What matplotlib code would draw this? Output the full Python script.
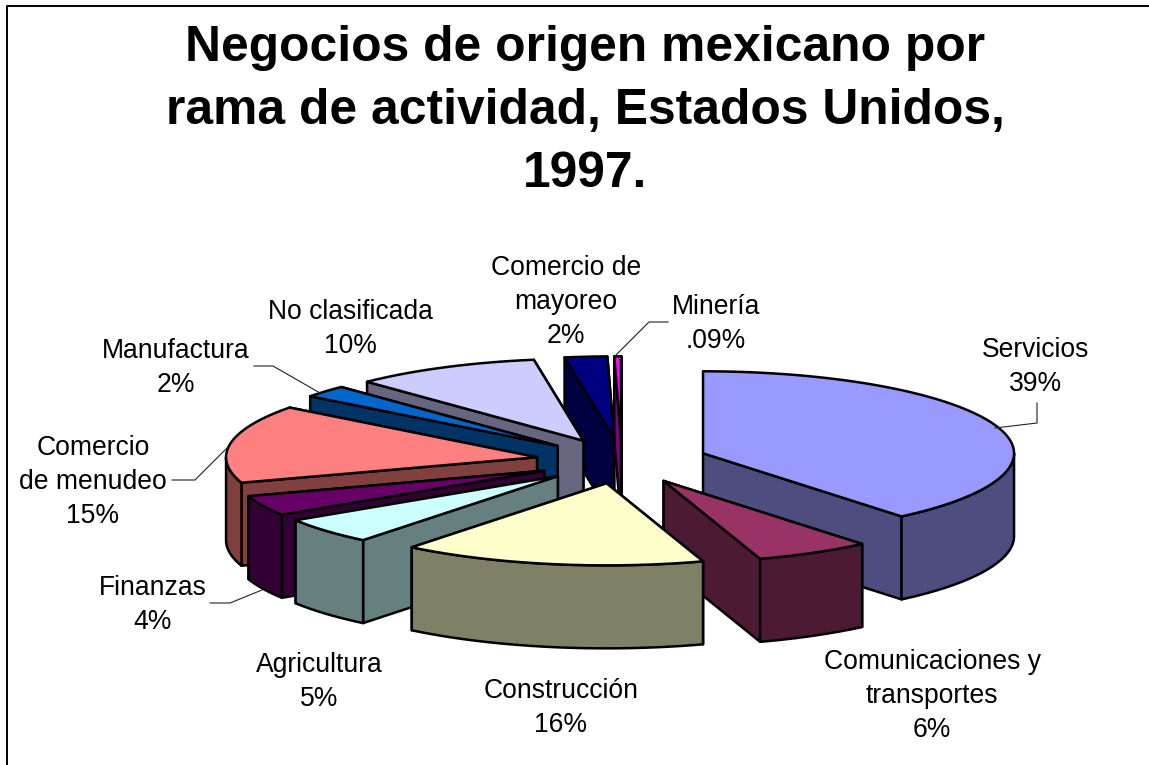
import numpy as np
import matplotlib
matplotlib.use('Agg')
import matplotlib.pyplot as plt
from matplotlib.colors import to_rgb

plt.rcParams['font.family'] = ['Liberation Sans', 'DejaVu Sans']

title = 'Negocios de origen mexicano por\nrama de actividad, Estados Unidos,\n1997.'

categories = ['Servicios', 'Comunicaciones y\ntransportes', 'Construcción', 'Agricultura',
              'Finanzas', 'Comercio\nde menudeo', 'Manufactura', 'No clasificada',
              'Comercio de\nmayoreo', 'Minería']
# slice sizes as drawn in the picture, the printed labels are rounded
values = [39.0, 6.0, 15.8, 5.2, 4.0, 15.4, 2.4, 9.7, 2.2, 0.35]
pct_labels = ['39%', '6%', '16%', '5%', '4%', '15%', '2%', '10%', '2%', '.09%']
colors = ['#9999FF', '#993366', '#FFFFCC', '#CCFFFF', '#660066',
          '#FF8080', '#0066CC', '#CCCCFF', '#000080', '#FF00FF']

# layout in pixels
CX, CY = 622, 461
RX, RY = 311, 82
DEPTH = 83
EXPLODE = 0.277
LW = 1.8

label_pos = [(1036, 367), (932, 696), (561, 708), (319, 682), (153, 605),
             (93, 482), (176, 368), (350, 329), (566, 302), (716, 324)]

leaders = [
    [(1037, 403), (1037, 423), (995, 428)],
    [(668, 322), (649, 322), (614, 357)],
    [(254, 366), (273, 366), (320, 393)],
    [(172, 480), (195, 480), (228, 447)],
    [(210, 603), (230, 603), (262, 590)],
]


def rim(ang, x0, y0):
    # angle is clockwise from 12 o'clock, in radians
    return x0 + RX * np.sin(ang), y0 - RY * np.cos(ang)


def draw_slice(ax, start, end, color, order):
    mid = (start + end) / 2
    x0 = CX + EXPLODE * RX * np.sin(mid)
    y0 = CY - EXPLODE * RY * np.cos(mid)
    side = tuple(c * 0.5 for c in to_rgb(color))
    style = dict(edgecolor='black', linewidth=LW, joinstyle='round', zorder=order)

    # cut faces, the back one first
    faces = []
    for a in (start, end):
        xr, yr = rim(a, x0, y0)
        faces.append(((y0 + yr) / 2, [(x0, y0), (xr, yr), (xr, yr + DEPTH), (x0, y0 + DEPTH)]))
    faces.sort(key=lambda f: f[0])
    for _, pts in faces:
        ax.fill(*zip(*pts), facecolor=side, **style)

    # outer wall, only the part facing the viewer
    a0, a1 = max(start, np.pi / 2), min(end, 3 * np.pi / 2)
    if a1 > a0:
        t = np.linspace(a0, a1, 80)
        xs, ys = rim(t, x0, y0)
        ax.fill(np.r_[xs, xs[::-1]], np.r_[ys, ys[::-1] + DEPTH], facecolor=side, **style)

    # top face
    t = np.linspace(start, end, 120)
    xs, ys = rim(t, x0, y0)
    ax.fill(np.r_[x0, xs], np.r_[y0, ys], facecolor=color, **style)


fig = plt.figure(figsize=(11.49, 7.65), dpi=100)
ax = fig.add_axes([0, 0, 1, 1])
ax.set_xlim(0, 1149)
ax.set_ylim(765, 0)
ax.axis('off')

# frame of the slide
ax.plot([7, 7, 1149], [765, 5.5, 5.5], color='black', lw=1.4, zorder=1)

fractions = np.array(values) / sum(values)
edges = np.r_[0, np.cumsum(fractions)] * 2 * np.pi
mids = (edges[:-1] + edges[1:]) / 2
# back slices first
paint_order = np.argsort(-np.abs(mids - np.pi))
for n, i in enumerate(paint_order):
    draw_slice(ax, edges[i], edges[i + 1], colors[i], 10 + n)

for pts in leaders:
    ax.plot(*zip(*pts), color='#222222', lw=0.8, zorder=30)

for cat, pct, (x, y) in zip(categories, pct_labels, label_pos):
    ax.text(x, y, cat + '\n' + pct, ha='center', va='center', fontsize=19.1,
            linespacing=1.39, color='black', zorder=40)

ax.text(585, 111, title, ha='center', va='center', fontsize=35.8, fontweight='bold',
        linespacing=1.46, color='black', zorder=40)

fig.savefig('out.png', dpi=100)
